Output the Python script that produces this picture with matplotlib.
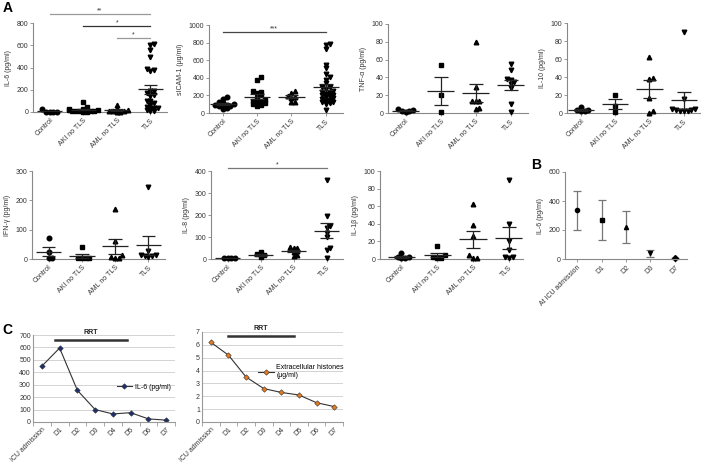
import matplotlib
matplotlib.use('Agg')
import matplotlib.pyplot as plt
import numpy as np

plt.rcParams['font.family'] = ['Liberation Sans', 'DejaVu Sans']

W, H = 701, 466

groups = ['Control', 'AKI no TLS', 'AML no TLS', 'TLS']
markers = ['o', 's', '^', 'v']

# panel A data
il6 = [[25, 2, 2, 2, 2],
       [90, 45, 30, 25, 20, 15, 12, 10, 8, 5, 5, 3, 2],
       [65, 30, 20, 10, 5, 5, 3, 2],
       [610, 600, 560, 490, 385, 375, 370, 190, 185, 175, 165, 155, 140,
        100, 95, 80, 60, 45, 40, 35, 30, 20, 10, 5]]
sicam = [[185, 160, 120, 110, 100, 95, 90, 85, 80, 75, 60, 40],
         [405, 380, 250, 240, 230, 200, 170, 150, 140, 130, 120, 110, 100, 90, 80],
         [255, 230, 190, 180, 175, 130, 130],
         [780, 770, 730, 550, 510, 440, 410, 380, 340, 300, 290, 270, 250, 240,
          230, 220, 210, 200, 190, 180, 170, 160, 150, 140, 130, 120, 110, 100, 30]]
tnf = [[3, 2, 1, 2, 4],
       [54, 20, 1],
       [80, 29, 14, 13, 13, 6, 4],
       [55, 48, 37, 35, 33, 38, 28, 10, 1]]
il10 = [[7, 3, 2, 2, 3],
        [20, 8, 1],
        [62, 39, 38, 17, 2, 0],
        [90, 16, 5, 4, 3, 3, 2, 2, 2]]
ifng = [[70, 25, 3, 3],
        [40, 3, 2, 2, 2],
        [170, 60, 12, 8, 3, 3],
        [245, 28, 12, 10, 10, 13, 8]]
il8 = [[5, 5, 5, 6],
       [30, 22, 18, 10],
       [55, 50, 48, 35, 30, 20, 12],
       [360, 195, 150, 140, 120, 100, 50, 40, 5]]
il1b = [[7, 2, 2, 1, 1],
        [15, 4, 2, 1, 1],
        [62, 39, 26, 4, 1, 1],
        [90, 40, 20, 10, 2, 2, 1]]

# panel B
b_days = ['At ICU admission', 'D1', 'D2', 'D3', 'D7']
b_mean = [340, 270, 220, 40, 5]
b_low = [200, 130, 110, 15, 0]
b_high = [470, 410, 330, 60, 10]
b_markers = ['o', 's', '^', 'v', 'D']

# panel C
c_days = ['ICU admission', 'D1', 'D2', 'D3', 'D4', 'D5', 'D6', 'D7']
c_il6 = [450, 595, 255, 100, 65, 75, 25, 15]
c_hist = [6.2, 5.2, 3.5, 2.6, 2.3, 2.1, 1.5, 1.2]

fig = plt.figure(figsize=(W / 100, H / 100), dpi=100)


def ax_px(left, top, right, bottom):
    return fig.add_axes([left / W, 1 - bottom / H, (right - left) / W, (bottom - top) / H])


def style(ax, grey='#888'):
    for s in ['top', 'right']:
        ax.spines[s].set_visible(False)
    for s in ['left', 'bottom']:
        ax.spines[s].set_color(grey)
        ax.spines[s].set_linewidth(0.8)
    ax.tick_params(colors=grey, labelcolor='#333', labelsize=5, length=2, width=0.6, pad=1.5)


def swarm(vals, ytop, step=0.11):
    # spread points sideways when they would overlap
    vals = np.asarray(vals, float)
    xs = np.zeros(len(vals))
    placed = []
    for i in np.argsort(vals):
        v = vals[i]
        x = 0.0
        for k in [0, 1, -1, 2, -2, 3, -3, 4, -4]:
            x = k * step
            if all(abs(x - px) > step * 0.9 or abs(v - pv) > 0.03 * ytop for px, pv in placed):
                break
        placed.append((x, v))
        xs[i] = x
    return xs


def dot_panel(box, data, ytop, yticks, ylabel, xlim=(-0.5, 3.5)):
    ax = ax_px(*box)
    style(ax)
    for i, vals in enumerate(data):
        xs = swarm(vals, ytop) + i
        ax.plot(xs, vals, linestyle='none', marker=markers[i], ms=3.3,
                color='black', clip_on=False, zorder=3)
        v = np.asarray(vals, float)
        m = v.mean()
        sem = v.std(ddof=1) / np.sqrt(len(v))
        ax.hlines(m, i - 0.38, i + 0.38, color='#222', lw=0.9, zorder=4)
        ax.hlines([m - sem, m + sem], i - 0.2, i + 0.2, color='#222', lw=0.9, zorder=4)
        ax.vlines(i, m - sem, m + sem, color='#222', lw=0.9, zorder=4)
    ax.set_xlim(*xlim)
    ax.set_ylim(0, ytop)
    ax.set_yticks(yticks)
    ax.set_xticks(range(4))
    ax.set_xticklabels(groups, rotation=45, ha='right', va='top', rotation_mode='anchor')
    ax.set_ylabel(ylabel, fontsize=5, color='#333', labelpad=3)
    return ax


def sig(ax, x0, x1, y, txt, color='#555'):
    ax.plot([x0, x1], [y, y], color=color, lw=0.9, clip_on=False)
    ax.text((x0 + x1) / 2, y, txt, ha='center', va='bottom', fontsize=5, color='#333')


a1 = dot_panel((33, 23, 167, 112), il6, 800, range(0, 801, 200), 'IL-6 (pg/ml)')
sig(a1, 0, 3, 881, '**', '#999')
sig(a1, 1, 3, 773, '*', '#333')
sig(a1, 2, 3, 665, '*', '#999')

a2 = dot_panel((209, 25, 343, 113), sicam, 1000, range(0, 1001, 200), 'sICAM-1 (μg/ml)',
               xlim=(-0.4, 3.5))
sig(a2, 0, 3, 920, '***', '#444')

dot_panel((388, 24, 528, 113), tnf, 100, range(0, 101, 20), 'TNF-α (pg/ml)')
dot_panel((567, 23, 701, 113), il10, 100, range(0, 101, 20), 'IL-10 (pg/ml)', xlim=(-0.4, 3.5))

dot_panel((32, 171, 165, 259), ifng, 300, range(0, 301, 100), 'IFN-γ (pg/ml)')
a6 = dot_panel((211, 171, 343, 259), il8, 400, range(0, 401, 100), 'IL-8 (pg/ml)')
sig(a6, 0, 3, 414, '*', '#777')
dot_panel((380, 171, 523, 259), il1b, 100, range(0, 101, 20), 'IL-1β (pg/ml)', xlim=(-0.6, 3.4))

# panel B
axb = ax_px(565, 172, 687, 259)
style(axb)
for i in range(len(b_days)):
    axb.errorbar(i, b_mean[i], yerr=[[b_mean[i] - b_low[i]], [b_high[i] - b_mean[i]]],
                 fmt=b_markers[i], ms=3, color='black', ecolor='#777', elinewidth=0.9,
                 capsize=3, capthick=0.9, clip_on=False)
axb.set_xlim(-0.5, 4.5)
axb.set_ylim(0, 600)
axb.set_yticks(range(0, 601, 200))
axb.set_xticks(range(len(b_days)))
axb.set_xticklabels(b_days, rotation=45, ha='right', va='top', rotation_mode='anchor')
axb.set_ylabel('IL-6 (pg/ml)', fontsize=5, color='#333', labelpad=3)


# panel C
def line_panel(box, vals, ytop, step, mcolor, label, rrt, rrt_y, leg_anchor):
    ax = ax_px(*box)
    style(ax, '#999')
    ax.grid(axis='y', color='#ccc', lw=0.6)
    ax.set_axisbelow(True)
    x = np.arange(len(vals))
    ax.plot(x, vals, color='#333', lw=0.8, marker='D', ms=2.8, mfc=mcolor,
            mec='#333', mew=0.4, label=label)
    ax.set_xlim(-0.5, len(vals) - 0.5)
    ax.set_ylim(0, ytop)
    ax.set_yticks(np.arange(0, ytop + step / 2, step))
    ax.set_xticks(np.arange(-0.5, len(vals), 1), minor=False)
    ax.set_xticklabels([])
    ax.set_xticks(x, minor=True)
    ax.set_xticklabels(c_days, minor=True, rotation=45, ha='right', va='top',
                       rotation_mode='anchor')
    ax.tick_params(axis='x', which='minor', length=0, labelsize=5, labelcolor='#333', pad=3)
    ax.tick_params(axis='x', which='major', length=3)
    ax.tick_params(axis='y', length=0)
    ax.plot(rrt, [rrt_y, rrt_y], color='#333', lw=1.8, clip_on=False)
    ax.text(np.mean(rrt), rrt_y + ytop * 0.04, 'RRT', ha='center', va='bottom',
            fontsize=5, fontweight='bold', color='#222')
    ax.legend(loc='center left', bbox_to_anchor=leg_anchor, frameon=False, fontsize=5,
              handlelength=2.2, handletextpad=0.4, borderpad=0, borderaxespad=0)
    return ax


line_panel((33, 335, 175, 422), c_il6, 700, 100, '#1f2f6e', 'IL-6 (pg/ml)',
           (0.75, 4.8), 660, (0.59, 0.40))
line_panel((202, 332, 343, 422), c_hist, 7, 1, '#e87a1e', 'Extracellular histones\n(μg/ml)',
           (0.98, 4.7), 6.7, (0.40, 0.56))

fig.text(3 / W, 1 - 1 / H, 'A', fontsize=10, fontweight='bold', va='top')
fig.text(531 / W, 1 - 158 / H, 'B', fontsize=10, fontweight='bold', va='top')
fig.text(2 / W, 1 - 323 / H, 'C', fontsize=10, fontweight='bold', va='top')

fig.savefig('out.png', dpi=100)
